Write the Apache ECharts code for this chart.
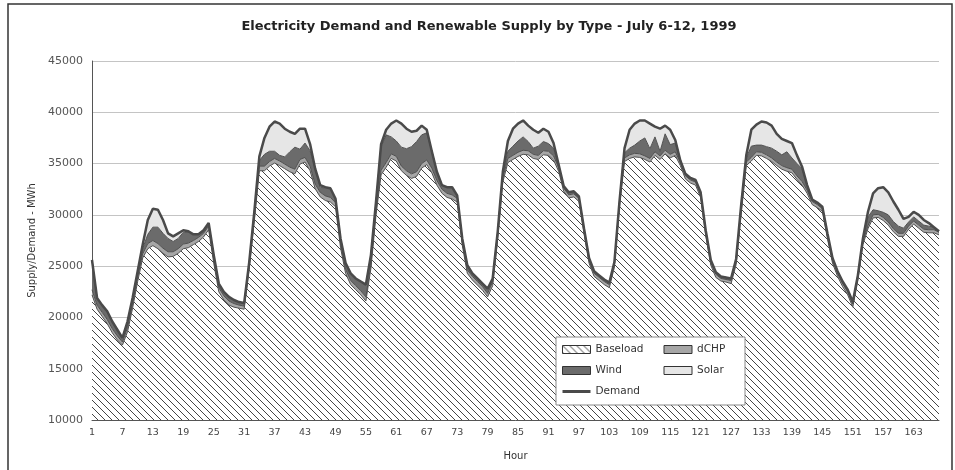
<!DOCTYPE html>
<html><head><meta charset="utf-8">
<script src="https://cdn.jsdelivr.net/npm/echarts@6/dist/echarts.min.js"></script>
<style>html,body{margin:0;padding:0;background:#fff}#c{width:955px;height:470px}</style>
</head><body><div id="c"></div>
<script>
const hours = [];
for (let i = 1; i <= 168; i++) hours.push(String(i));

const baseload = [22200,20800,20100,19400,18500,17800,17300,18600,20900,23500,25800,26700,27000,26700,26250,25900,25950,26250,26700,26800,27100,27400,27850,28550,
25300,22500,21700,21200,21000,20900,20800,24700,29400,34300,34300,34750,35050,34800,34500,34200,34000,34950,35150,34300,32550,31750,31400,31250,
30800,26800,24300,23200,22700,22200,21600,24800,30000,33900,34650,35500,35250,34300,33850,33550,33750,34550,34900,34100,32900,32100,31700,31550,
31250,27050,24300,23650,23150,22650,22000,23100,27700,33200,35100,35400,35700,35900,35850,35500,35400,35850,35800,35350,34250,32300,31650,31750,
31300,28200,25300,24000,23600,23200,22900,24900,30800,35200,35500,35650,35600,35400,35150,35800,35400,35950,35550,35800,34800,33500,33100,32900,
31700,28000,25100,23900,23550,23450,23300,25150,30100,34800,35250,35800,35750,35500,35200,34800,34450,34250,34100,33450,32900,32100,31000,30700,
30350,27700,25300,24000,23000,22200,21000,23600,27100,28650,29700,29750,29450,29000,28350,27900,27900,28600,29100,28700,28300,28250,28250,28050];

const dchp = [500,400,400,400,400,400,300,400,400,400,400,500,500,500,500,500,450,450,450,450,400,400,350,350,
400,400,400,400,350,300,300,350,400,450,450,450,450,450,450,450,450,450,450,450,450,450,450,450,
400,400,400,400,400,400,400,400,400,450,450,450,450,450,450,450,450,450,450,450,450,400,400,400,
350,350,350,350,350,350,350,350,350,400,400,400,400,400,400,400,400,400,400,400,350,300,300,300,
300,300,300,300,300,300,300,300,300,350,350,350,350,350,350,350,350,350,350,350,300,300,300,300,
300,300,300,300,250,250,300,300,350,350,350,350,350,350,350,350,350,350,350,350,350,300,300,300,
250,300,300,300,300,300,300,300,300,300,300,300,300,300,300,300,300,300,300,300,300,300,300,250];

const wind = [2900,700,700,800,700,600,400,600,500,400,500,900,1300,1600,1450,1300,1000,1000,1150,1100,600,300,300,300,
400,400,400,400,350,300,300,350,400,550,1150,1000,700,550,700,1500,2150,1000,1400,1500,1500,500,750,900,
400,500,600,700,700,900,1200,900,900,2300,2700,1650,1500,1850,2150,2650,2950,2800,2650,1650,850,400,600,750,
300,300,450,300,300,300,450,350,350,500,700,900,1100,1300,900,600,900,900,750,750,300,200,250,250,
200,200,200,200,200,200,200,200,200,500,650,800,1250,1750,950,1450,450,1600,950,850,200,200,200,200,
200,200,200,200,200,200,200,250,450,400,1100,650,700,800,950,1050,1050,1550,1100,1200,1250,500,200,200,
200,200,200,200,200,200,200,200,250,850,500,350,500,700,700,700,500,400,400,400,400,350,250,100];

const solar = [0,0,0,0,0,0,0,0,100,200,400,1400,1800,1700,1300,500,500,500,200,50,0,0,0,0,
0,0,0,0,0,0,0,0,100,400,1600,2400,2900,3100,2750,1950,1300,2000,1400,650,0,200,100,0,
0,0,0,0,0,0,0,0,0,250,500,1300,2000,2300,1950,1450,1050,900,300,0,0,0,0,0,
0,0,0,0,0,0,0,0,0,100,1000,1700,1700,1600,1550,1800,1300,1250,1150,500,0,0,0,0,
0,0,0,0,0,0,0,0,0,450,1800,2100,2000,1700,2450,1000,2200,800,1450,300,0,0,0,0,
0,0,0,0,0,0,0,0,100,250,1600,2000,2300,2350,2200,1700,1550,1050,1450,800,200,0,0,0,
0,0,0,0,0,0,0,0,50,500,1600,2200,2450,2200,1950,1600,900,500,500,600,500,300,0,0];

const demand = [25600,21900,21200,20600,19600,18800,18000,19600,21900,24500,27100,29500,30600,30500,29500,28200,27900,28200,28500,28400,28100,28100,28500,29200,
26100,23300,22500,22000,21700,21500,21400,25400,30300,35700,37500,38600,39100,38900,38400,38100,37900,38400,38400,36900,34500,32900,32700,32600,
31600,27700,25300,24300,23800,23500,23200,26100,31300,36900,38300,38900,39200,38900,38400,38100,38200,38700,38300,36200,34200,32900,32700,32700,
31900,27700,25100,24300,23800,23300,22800,23800,28400,34200,37200,38400,38900,39200,38700,38300,38000,38400,38100,37000,34900,32800,32200,32300,
31800,28700,25800,24500,24100,23700,23400,25400,31300,36500,38300,38900,39200,39200,38900,38600,38400,38700,38300,37300,35300,34000,33600,33400,
32200,28500,25600,24400,24000,23900,23800,25700,31000,35800,38300,38800,39100,39000,38700,37900,37400,37200,37000,35800,34700,32900,31500,31200,
30800,28200,25800,24500,23500,22700,21500,24100,27700,30300,32100,32600,32700,32200,31300,30500,29600,29800,30300,30000,29500,29200,28800,28400];

const yTicks = { min: 10000, max: 45000, step: 5000 };

function hatch() {
  const s = 7;
  const c = document.createElement('canvas');
  c.width = s; c.height = s;
  const g = c.getContext('2d');
  g.fillStyle = '#ffffff'; g.fillRect(0, 0, s, s);
  g.strokeStyle = '#454545'; g.lineWidth = 1;
  g.beginPath();
  g.moveTo(-1, -1); g.lineTo(s + 1, s + 1);
  g.moveTo(-1, s - 1); g.lineTo(1, s + 1);
  g.moveTo(s - 1, -1); g.lineTo(s + 1, 1);
  g.stroke();
  return c;
}
const hatchFill = { image: hatch(), repeat: 'repeat' };
const FONT = 'DejaVu Sans, Verdana, sans-serif';

const chart = echarts.init(document.getElementById('c'), null, { renderer: 'canvas' });
function area(name, data, fill) {
  return {
    name, type: 'line', stack: 'supply', data,
    symbol: 'none', showSymbol: false,
    lineStyle: { color: '#505050', width: 1 },
    itemStyle: { color: typeof fill === 'string' ? fill : '#888' },
    areaStyle: { color: fill, opacity: 1 },
    emphasis: { disabled: true },
    z: 2
  };
}
const col2 = { dCHP: 1, Solar: 1 };
chart.setOption({
  animation: false,
  backgroundColor: '#ffffff',
  title: {
    text: 'Electricity Demand and Renewable Supply by Type - July 6-12, 1999',
    left: 484, top: 15, textAlign: 'center',
    textStyle: { fontFamily: FONT, fontSize: 13, fontWeight: 'bold', color: '#222' }
  },
  graphic: [{
    type: 'rect', z: 0, silent: true,
    shape: { x: 8, y: 4, width: 944, height: 475 },
    style: { fill: 'none', stroke: '#333', lineWidth: 1.5 }
  }],
  grid: { left: 92, right: 16, top: 61, bottom: 50, containLabel: false },
  legend: {
    left: 556, top: 337, width: 200,
    orient: 'horizontal',
    padding: [7, 8, 8, 6],
    itemWidth: 28, itemHeight: 8, itemGap: 10,
    backgroundColor: '#ffffff', borderColor: '#888', borderWidth: 1,
    z: 20,
    formatter: n => (col2[n] ? '{b|' : '{a|') + n + '}',
    textStyle: { fontFamily: FONT, fontSize: 10.5, color: '#333',
      rich: {
        a: { width: 58, lineHeight: 12, fontFamily: FONT, fontSize: 10.5, color: '#333' },
        b: { width: 40, lineHeight: 12, fontFamily: FONT, fontSize: 10.5, color: '#333' }
      } },
    data: [
      { name: 'Baseload', icon: 'rect', itemStyle: { color: hatchFill, borderColor: '#333', borderWidth: 1 } },
      { name: 'dCHP', icon: 'rect', itemStyle: { color: '#a6a6a6', borderColor: '#333', borderWidth: 1 } },
      { name: 'Wind', icon: 'rect', itemStyle: { color: '#6b6b6b', borderColor: '#333', borderWidth: 1 } },
      { name: 'Solar', icon: 'rect', itemStyle: { color: '#e6e6e6', borderColor: '#333', borderWidth: 1 } },
      { name: 'Demand', icon: 'path://M0,0 L28,0 L28,3 L0,3 Z', itemStyle: { color: '#4a4a4a', borderWidth: 0 } }
    ]
  },
  xAxis: {
    type: 'category', data: hours, boundaryGap: false,
    name: 'Hour', nameLocation: 'middle', nameGap: 31,
    nameTextStyle: { fontFamily: FONT, fontSize: 10, color: '#333' },
    axisLine: { lineStyle: { color: '#555' } },
    axisTick: { show: false },
    axisLabel: { interval: 5, fontFamily: FONT, fontSize: 9.5, color: '#444', margin: 8 },
    splitLine: { show: false }
  },
  yAxis: {
    type: 'value', min: yTicks.min, max: yTicks.max, interval: yTicks.step,
    name: 'Supply/Demand - MWh', nameLocation: 'middle', nameGap: 55, nameRotate: 90,
    nameTextStyle: { fontFamily: FONT, fontSize: 10, color: '#333' },
    axisLine: { show: true, lineStyle: { color: '#555' } },
    axisTick: { show: false },
    axisLabel: { fontFamily: FONT, fontSize: 11, color: '#555', margin: 9, formatter: v => String(v) },
    splitLine: { lineStyle: { color: '#c4c4c4', width: 1 } }
  },
  series: [
    area('Baseload', baseload, hatchFill),
    area('dCHP', dchp, '#a6a6a6'),
    area('Wind', wind, '#6b6b6b'),
    area('Solar', solar, '#e6e6e6'),
    {
      name: 'Demand', type: 'line', data: demand,
      symbol: 'none', showSymbol: false,
      lineStyle: { color: '#4a4a4a', width: 2.5 },
      itemStyle: { color: '#4a4a4a' },
      emphasis: { disabled: true },
      z: 5
    }
  ]
});
</script>
</body></html>
